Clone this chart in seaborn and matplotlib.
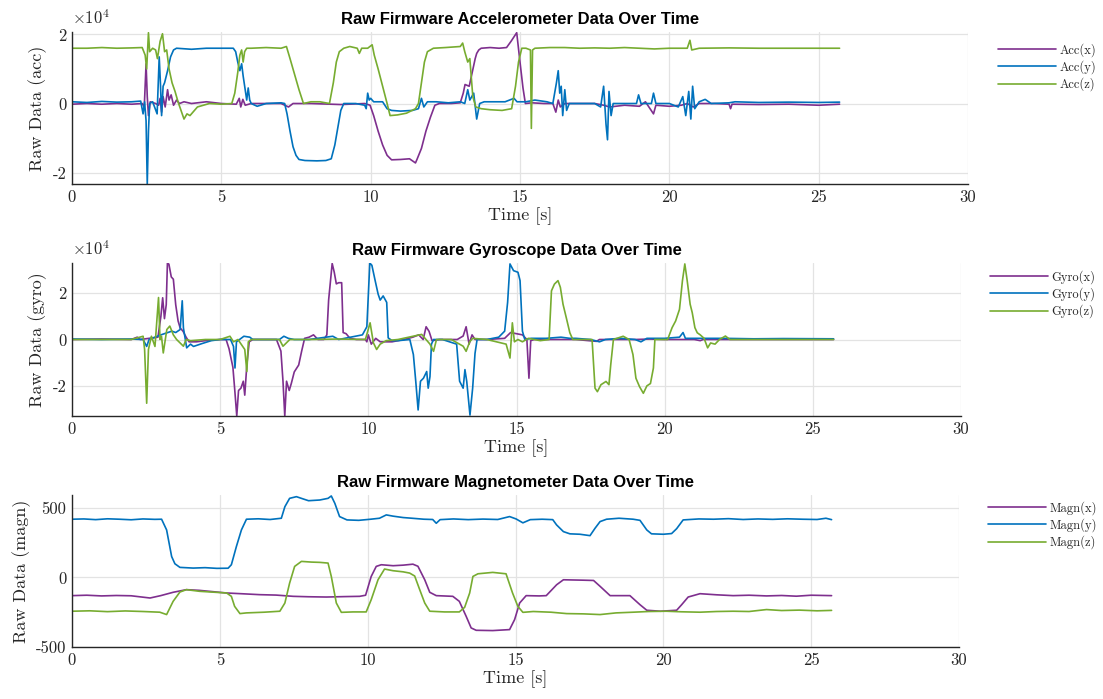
import numpy as np
import matplotlib
matplotlib.use("Agg")
import matplotlib.pyplot as plt
import seaborn as sns

# ---------------- data (accelerometer, units of 1e4) ----------------
acc_x_t = [0, 0.5, 1.0, 1.5, 2.0, 2.35, 2.42, 2.48, 2.52, 2.56, 2.62, 2.8, 2.9, 2.95, 3.0, 3.05, 3.12, 3.2, 3.25, 3.32, 3.4, 3.5, 3.6, 3.75, 4.0, 4.5, 5.0, 5.5, 5.6, 5.65, 5.72, 5.8, 6.0, 6.5, 7.0, 7.25, 7.4, 8.0, 9.0, 9.8, 9.98, 10.1, 10.25, 10.4, 10.55, 10.7, 11.0, 11.3, 11.5, 11.55, 11.7, 11.85, 12.0, 12.15, 12.3, 12.7, 13.0, 13.1, 13.16, 13.3, 13.4, 13.5, 13.55, 13.62, 13.7, 14.0, 14.3, 14.55, 14.7, 14.89, 15.0, 15.1, 15.18, 15.4, 15.8, 16.1, 16.2, 16.28, 16.35, 16.5, 17.0, 17.5, 17.8, 18.0, 18.5, 19.0, 19.2, 19.47, 19.55, 20.0, 20.4, 20.6, 20.8, 21.0, 21.5, 22.0, 22.05, 22.1, 23.0, 24.0, 25.0, 25.7]
acc_x_v = [-0.02, 0.0, -0.02, 0.0, -0.02, 0.0, -0.1, 1.15, 0.2, -0.35, 0.05, 0.0, -0.05, 0.15, -0.25, 0.2, -0.1, 0.4, 0.1, 0.25, -0.05, 0.1, 0.0, 0.05, 0.0, 0.05, 0.0, -0.02, 0.15, -0.1, 0.12, -0.05, 0.0, 0.0, 0.0, -0.1, 0.0, 0.0, -0.03, 0.0, -0.05, -0.35, -0.8, -1.2, -1.5, -1.63, -1.62, -1.6, -1.72, -1.62, -1.3, -0.8, -0.4, -0.05, 0.0, 0.0, 0.02, 0.3, 0.55, 0.5, 0.9, 1.3, 1.45, 1.55, 1.6, 1.62, 1.6, 1.62, 1.8, 2.05, 1.2, 0.45, 0.0, 0.02, 0.0, 0.0, -0.25, 0.1, -0.1, 0.0, 0.0, 0.0, -0.05, -0.1, -0.05, -0.08, 0.05, -0.3, -0.05, -0.08, -0.05, 0.0, -0.1, 0.0, 0.0, -0.02, -0.15, -0.02, -0.03, -0.02, -0.05, -0.02]

acc_y_t = [0, 0.5, 1.0, 1.5, 2.0, 2.3, 2.38, 2.43, 2.48, 2.52, 2.56, 2.6, 2.7, 2.85, 2.92, 2.96, 3.0, 3.05, 3.1, 3.2, 3.3, 3.4, 3.5, 4.0, 4.5, 5.0, 5.4, 5.48, 5.55, 5.62, 5.68, 5.73, 5.8, 5.85, 5.9, 5.95, 6.0, 6.2, 6.5, 7.0, 7.12, 7.2, 7.3, 7.4, 7.5, 7.6, 7.8, 8.2, 8.5, 8.68, 8.8, 8.9, 9.0, 9.1, 9.5, 9.8, 9.85, 9.9, 9.95, 10.0, 10.1, 10.4, 10.55, 10.7, 11.0, 11.4, 11.6, 11.7, 11.78, 11.9, 12.2, 12.6, 13.0, 13.15, 13.25, 13.32, 13.45, 13.55, 13.65, 13.8, 14.5, 14.8, 14.9, 15.2, 15.5, 15.9, 16.1, 16.22, 16.28, 16.33, 16.38, 16.43, 16.5, 16.56, 16.65, 17.0, 17.5, 17.7, 17.8, 17.88, 17.93, 17.98, 18.05, 18.12, 18.5, 18.9, 18.97, 19.05, 19.4, 19.47, 19.55, 20.0, 20.3, 20.45, 20.55, 20.65, 20.72, 20.78, 20.85, 21.0, 21.2, 21.4, 22.0, 22.2, 23.0, 24.0, 25.0, 25.7]
acc_y_v = [0.05, 0.03, 0.06, 0.04, 0.05, 0.07, -0.3, 0.05, -0.5, -2.33, -0.8, 0.0, 0.05, -0.3, 1.35, 0.6, -0.35, 0.5, 0.6, 0.95, 1.35, 1.55, 1.6, 1.57, 1.6, 1.6, 1.6, 1.5, 1.2, 0.95, 1.15, 0.8, 0.4, 0.1, 0.45, 0.1, 0.0, -0.08, 0.0, 0.02, 0.0, -0.3, -0.8, -1.25, -1.5, -1.62, -1.65, -1.66, -1.65, -1.6, -1.2, -0.7, -0.2, 0.0, 0.0, -0.05, -0.15, 0.3, 0.1, 0.15, 0.05, 0.05, -0.15, -0.2, -0.22, -0.2, -0.15, 0.15, -0.1, 0.05, 0.05, 0.02, 0.05, 0.0, 0.4, 0.1, 0.3, -0.45, 0.0, 0.05, 0.05, 0.15, 0.05, 0.05, 0.1, 0.05, 0.0, 0.6, 0.95, 0.3, 0.5, -0.35, 0.4, -0.2, 0.0, 0.0, 0.0, -0.1, 0.5, -0.6, -1.05, 0.35, -0.35, 0.0, 0.0, 0.0, 0.25, 0.0, 0.0, 0.3, 0.0, 0.0, -0.1, 0.2, -0.35, 0.35, -0.45, 0.5, -0.15, 0.05, 0.12, 0.0, 0.02, 0.05, 0.03, 0.04, 0.03, 0.04]

acc_z_t = [0, 0.5, 1.0, 1.5, 2.0, 2.35, 2.45, 2.5, 2.56, 2.6, 2.7, 2.8, 2.86, 2.95, 3.03, 3.1, 3.17, 3.25, 3.35, 3.45, 3.55, 3.65, 3.75, 3.85, 3.95, 4.05, 4.2, 4.4, 4.6, 5.0, 5.35, 5.45, 5.55, 5.62, 5.68, 5.73, 5.78, 5.85, 6.0, 6.5, 7.0, 7.18, 7.3, 7.45, 7.6, 7.75, 8.0, 8.3, 8.62, 8.75, 8.85, 8.95, 9.1, 9.3, 9.55, 9.62, 9.7, 9.9, 10.05, 10.12, 10.25, 10.4, 10.55, 10.65, 10.9, 11.2, 11.5, 11.6, 11.7, 11.8, 11.9, 12.1, 12.5, 13.0, 13.08, 13.15, 13.25, 13.32, 13.42, 13.52, 13.7, 14.0, 14.4, 14.72, 14.85, 14.95, 15.06, 15.2, 15.35, 15.38, 15.42, 15.5, 16.0, 16.5, 17.0, 17.5, 18.0, 18.5, 19.0, 19.5, 20.0, 20.6, 20.69, 20.75, 21.0, 22.0, 23.0, 24.0, 25.0, 25.7]
acc_z_v = [1.6, 1.6, 1.62, 1.6, 1.61, 1.62, 1.4, 1.0, 2.05, 1.5, 1.6, 1.55, 1.3, 1.8, 2.02, 1.5, 1.55, 1.0, 0.6, 0.35, 0.05, -0.2, -0.45, -0.3, -0.35, -0.25, -0.1, -0.05, 0.0, -0.02, 0.0, 0.3, 0.9, 1.4, 1.55, 1.2, 1.5, 1.6, 1.6, 1.62, 1.6, 1.65, 1.3, 0.85, 0.4, 0.0, 0.05, 0.05, 0.0, 0.6, 1.2, 1.5, 1.6, 1.65, 1.6, 1.45, 1.6, 1.6, 1.7, 1.4, 1.0, 0.5, 0.0, -0.35, -0.33, -0.28, -0.15, 0.0, 0.6, 1.2, 1.5, 1.6, 1.62, 1.65, 1.75, 1.5, 1.2, 1.3, 0.2, -0.1, -0.15, -0.18, -0.2, -0.15, 0.5, 1.2, 1.6, 1.6, 1.55, -0.72, 1.55, 1.6, 1.62, 1.62, 1.6, 1.61, 1.6, 1.62, 1.6, 1.58, 1.6, 1.6, 1.83, 1.55, 1.6, 1.61, 1.6, 1.6, 1.6, 1.6]

# ---------------- data (gyroscope, units of 1e4) ----------------
gyro_x_t = [0, 1.0, 2.0, 2.2, 2.3, 2.6, 2.9, 3.0, 3.06, 3.12, 3.18, 3.22, 3.27, 3.35, 3.42, 3.5, 3.58, 3.65, 3.75, 3.85, 3.95, 4.2, 4.5, 5.0, 5.2, 5.3, 5.43, 5.5, 5.56, 5.62, 5.7, 5.78, 5.83, 5.9, 5.98, 6.1, 6.5, 6.9, 7.05, 7.12, 7.18, 7.24, 7.33, 7.4, 7.5, 7.65, 7.75, 7.85, 8.0, 8.15, 8.3, 8.5, 8.6, 8.66, 8.78, 8.85, 8.92, 9.0, 9.1, 9.15, 9.25, 9.38, 9.6, 9.9, 9.95, 10.0, 10.1, 10.25, 10.4, 10.8, 11.2, 11.5, 11.7, 11.85, 11.95, 12.05, 12.15, 12.4, 13.0, 13.2, 13.3, 13.4, 13.5, 13.6, 14.0, 14.6, 14.8, 15.0, 15.2, 15.35, 15.42, 15.48, 15.6, 16.0, 17.0, 17.7, 17.8, 18.5, 19.0, 19.5, 20.0, 21.0, 21.2, 21.3, 22.0, 23.0, 25.7]
gyro_x_v = [0.0, 0.02, 0.0, 0.1, 0.0, 0.05, 0.1, 1.0, 1.8, 0.9, 1.5, 3.3, 3.25, 2.7, 2.6, 1.5, 0.8, 0.5, 0.35, 0.1, -0.1, -0.1, -0.05, 0.0, 0.0, -0.4, -1.2, -2.3, -3.3, -2.2, -2.1, -1.8, -2.4, -1.1, -0.1, 0.0, 0.0, 0.0, -0.5, -1.8, -3.3, -1.8, -2.2, -1.9, -1.4, -1.1, -0.5, 0.05, 0.1, 0.2, 0.0, 0.0, 0.2, 1.7, 3.28, 2.9, 2.4, 2.45, 2.45, 0.3, 0.25, 0.05, 0.0, 0.0, -0.1, 0.2, -0.2, 0.05, -0.1, -0.1, 0.0, 0.1, 0.2, 0.0, 0.55, 0.35, -0.05, 0.0, 0.0, 0.15, 0.55, -0.2, 0.2, 0.0, 0.0, 0.05, 0.3, 0.25, 0.2, 0.0, -1.67, -0.05, 0.0, 0.0, 0.0, -0.08, 0.0, 0.0, 0.0, 0.02, 0.0, 0.0, -0.05, 0.0, 0.0, 0.0, 0.0]

gyro_y_t = [0, 1.0, 2.0, 2.4, 2.52, 2.6, 2.8, 3.0, 3.37, 3.5, 3.65, 3.72, 3.76, 3.87, 4.0, 4.1, 4.4, 4.7, 5.0, 5.35, 5.45, 5.5, 5.55, 5.8, 6.0, 6.1, 6.5, 7.0, 7.15, 7.3, 7.5, 8.0, 8.8, 9.0, 9.8, 9.95, 10.05, 10.12, 10.22, 10.33, 10.4, 10.5, 10.62, 10.67, 10.8, 11.0, 11.4, 11.52, 11.6, 11.68, 11.76, 11.86, 11.97, 12.02, 12.08, 12.13, 12.2, 12.5, 12.98, 13.08, 13.2, 13.26, 13.32, 13.43, 13.52, 13.6, 13.67, 14.0, 14.4, 14.6, 14.7, 14.78, 14.9, 15.05, 15.12, 15.2, 15.28, 15.5, 16.0, 16.5, 16.8, 17.0, 17.5, 17.8, 18.0, 18.5, 19.0, 19.2, 19.4, 20.0, 20.5, 20.62, 20.7, 21.0, 22.0, 23.0, 24.0, 25.7]
gyro_y_v = [0.02, 0.0, 0.02, 0.0, -0.3, 0.0, 0.1, 0.2, 0.36, 0.3, 0.43, 1.67, 0.5, -0.36, -0.2, -0.3, -0.17, -0.05, 0.0, 0.0, -0.3, -1.23, -0.1, 0.14, 0.1, 0.0, 0.0, 0.0, 0.14, 0.05, 0.0, 0.0, 0.14, 0.0, 0.2, 0.55, 3.3, 3.2, 2.6, 1.96, 1.7, 1.88, 1.6, 0.07, -0.05, -0.05, 0.0, -0.65, -1.8, -3.04, -1.8, -1.67, -1.38, -2.1, -1.6, -0.2, 0.0, 0.0, -0.2, -1.8, -2.1, -1.3, -1.8, -3.26, -2.1, -0.6, 0.0, 0.0, 0.1, 0.36, 1.6, 3.26, 2.97, 2.9, 2.54, 0.36, 0.0, 0.05, 0.05, 0.1, 0.05, 0.05, 0.0, -0.1, 0.0, 0.05, 0.0, -0.1, 0.05, 0.05, 0.1, 0.3, 0.05, 0.05, 0.05, 0.03, 0.04, 0.03]

gyro_z_t = [0, 1.0, 2.0, 2.4, 2.45, 2.52, 2.58, 2.68, 2.8, 2.92, 2.97, 3.02, 3.08, 3.2, 3.3, 3.42, 3.53, 3.76, 3.85, 4.0, 4.5, 5.0, 5.33, 5.45, 5.6, 5.83, 5.9, 5.95, 6.05, 6.5, 7.0, 7.12, 7.35, 8.0, 9.0, 9.9, 10.06, 10.17, 10.28, 10.4, 10.6, 11.0, 11.8, 12.08, 12.2, 12.3, 12.8, 13.2, 13.3, 13.42, 13.52, 14.0, 14.65, 14.78, 14.86, 14.93, 15.05, 15.2, 15.4, 15.8, 16.1, 16.18, 16.28, 16.4, 16.48, 16.57, 16.68, 16.8, 16.9, 17.3, 17.55, 17.65, 17.73, 17.85, 18.02, 18.12, 18.18, 18.27, 18.6, 18.8, 18.93, 19.03, 19.15, 19.28, 19.4, 19.52, 19.62, 19.67, 20.1, 20.25, 20.37, 20.5, 20.6, 20.68, 20.76, 20.86, 20.93, 21.02, 21.1, 21.2, 21.33, 21.45, 21.55, 21.7, 21.85, 22.05, 22.2, 23.0, 24.0, 25.7]
gyro_z_v = [0.0, 0.0, 0.0, 0.14, -0.43, -2.75, -0.43, 0.14, -0.3, 1.81, 0.0, 0.14, -0.58, 0.43, 0.58, 0.2, 0.0, -0.29, 0.0, -0.05, 0.0, 0.0, 0.14, -0.1, 0.0, -0.43, -1.38, -0.1, 0.0, 0.0, 0.0, -0.29, 0.0, 0.0, 0.02, 0.0, 0.72, -0.14, -0.43, -0.2, -0.05, 0.0, 0.22, -0.2, -0.51, 0.0, 0.0, -0.29, -0.51, -0.1, 0.05, 0.0, -0.2, -0.8, 0.72, -0.1, 0.0, -0.1, 0.05, -0.05, 0.0, 2.1, 2.39, 2.54, 2.25, 1.52, 0.94, 0.29, 0.0, 0.0, 0.0, -2.1, -2.25, -1.95, -1.81, -1.95, -1.09, 0.0, 0.14, 0.0, -0.65, -1.67, -2.03, -2.32, -2.0, -1.9, -1.23, 0.0, 0.0, 0.51, 0.8, 1.3, 2.54, 3.26, 2.54, 1.52, 1.16, 0.51, 0.29, 0.2, 0.05, -0.36, -0.15, -0.2, 0.0, 0.15, 0.0, 0.0, 0.0, 0.0]

# ---------------- data (magnetometer, raw) ----------------
magn_x_t = [0, 0.5, 1.0, 1.5, 2.0, 2.64, 3.0, 3.42, 3.87, 4.3, 5.23, 5.8, 6.35, 6.9, 7.48, 8.0, 8.6, 9.2, 9.73, 9.93, 10.12, 10.29, 10.46, 10.86, 11.2, 11.53, 11.7, 11.93, 12.1, 12.32, 12.88, 13.1, 13.33, 13.5, 13.67, 14.23, 14.8, 14.97, 15.14, 15.36, 15.8, 16.04, 16.39, 16.62, 17.3, 17.64, 17.86, 18.2, 18.87, 19.21, 19.44, 19.9, 20.45, 20.62, 20.84, 21.24, 21.8, 22.36, 22.9, 23.49, 24.0, 24.5, 25.0, 25.69]
magn_x_v = [-131, -128, -133, -130, -132, -148, -131, -107, -88, -93, -112, -118, -124, -127, -136, -139, -141, -138, -136, -128, 7, 79, 91, 84, 88, 95, 80, -17, -107, -131, -136, -172, -279, -363, -380, -382, -375, -303, -184, -131, -133, -131, -53, -17, -20, -22, -64, -131, -131, -196, -236, -243, -236, -196, -141, -117, -125, -131, -128, -133, -130, -135, -128, -131]

magn_y_t = [0, 0.4, 0.8, 1.2, 1.6, 2.0, 2.4, 2.8, 3.03, 3.2, 3.37, 3.48, 3.65, 4.1, 4.5, 4.9, 5.28, 5.39, 5.56, 5.73, 5.9, 6.3, 6.7, 7.08, 7.2, 7.36, 7.59, 7.8, 8.0, 8.38, 8.66, 8.77, 8.89, 9.05, 9.3, 9.7, 10.1, 10.4, 10.63, 10.86, 11.2, 11.5, 11.9, 12.2, 12.32, 12.45, 12.9, 13.4, 13.9, 14.4, 14.8, 15.02, 15.25, 15.5, 15.9, 16.26, 16.39, 16.62, 16.84, 17.18, 17.52, 17.69, 17.86, 18.08, 18.5, 18.98, 19.21, 19.44, 19.6, 20.0, 20.28, 20.45, 20.67, 21.2, 21.7, 22.2, 22.7, 23.2, 23.7, 24.2, 24.7, 25.2, 25.5, 25.69]
magn_y_v = [418, 420, 415, 421, 418, 414, 420, 417, 418, 341, 150, 98, 72, 67, 70, 65, 66, 91, 222, 341, 418, 421, 416, 425, 508, 568, 580, 565, 551, 556, 568, 585, 532, 437, 413, 410, 418, 425, 449, 440, 430, 425, 418, 416, 389, 415, 420, 415, 419, 416, 437, 420, 392, 415, 418, 415, 377, 329, 313, 310, 300, 353, 401, 418, 425, 418, 410, 341, 313, 310, 315, 350, 413, 420, 418, 422, 416, 420, 417, 421, 418, 416, 425, 415]

magn_z_t = [0, 0.6, 1.2, 1.8, 2.4, 2.97, 3.2, 3.42, 3.65, 3.87, 4.32, 5.23, 5.39, 5.5, 5.68, 5.9, 6.5, 7.03, 7.2, 7.36, 7.53, 7.76, 8.1, 8.38, 8.66, 8.77, 8.94, 9.11, 9.5, 9.95, 10.12, 10.35, 10.57, 10.86, 11.2, 11.42, 11.59, 11.76, 11.93, 12.1, 12.6, 13.1, 13.28, 13.45, 13.56, 13.73, 14.23, 14.68, 14.9, 15.08, 15.25, 15.6, 16.2, 16.73, 17.3, 17.86, 18.4, 18.98, 19.5, 20.1, 20.6, 21.24, 21.8, 22.36, 22.9, 23.49, 24.0, 24.6, 25.2, 25.69]
magn_z_v = [-243, -240, -246, -241, -245, -250, -267, -172, -105, -88, -100, -112, -136, -208, -260, -255, -250, -243, -184, -41, 79, 115, 110, 108, 103, 7, -184, -251, -248, -248, -160, -17, 60, 48, 40, 31, 10, -88, -184, -243, -248, -248, -215, -112, 7, 26, 36, 26, -112, -208, -251, -245, -250, -260, -262, -267, -255, -250, -245, -243, -247, -250, -245, -243, -245, -231, -238, -235, -240, -237]

x_ticks = [0, 5, 10, 15, 20, 25, 30]
acc_labels = ["Acc(x)", "Acc(y)", "Acc(z)"]
gyro_labels = ["Gyro(x)", "Gyro(y)", "Gyro(z)"]
magn_labels = ["Magn(x)", "Magn(y)", "Magn(z)"]
titles = ["Raw Firmware Accelerometer Data Over Time",
          "Raw Firmware Gyroscope Data Over Time",
          "Raw Firmware Magnetometer Data Over Time"]
ylabels = ["Raw Data (acc)", "Raw Data (gyro)", "Raw Data (magn)"]

# ---------------- style ----------------
sns.set_style("white")
plt.rcParams["font.family"] = ["cmr10", "DejaVu Serif"]
plt.rcParams["axes.unicode_minus"] = False
plt.rcParams["mathtext.fontset"] = "cm"

colors = ["#7E2F8E", "#0072BD", "#77AC30"]
SERIF = ["cmr10", "DejaVu Serif"]
SANS = ["Liberation Sans", "DejaVu Sans"]
DARK = "#262626"

fig = plt.figure(figsize=(11.03, 6.99), dpi=100)
W, H = 1103, 699
boxes = [(72, 32, 968, 184), (72, 263, 961, 416), (72, 495, 959, 647)]
axes = []
for (l, t, r, b) in boxes:
    axes.append(fig.add_axes([l / W, 1 - b / H, (r - l) / W, (b - t) / H]))

panels = [
    (axes[0], [(acc_x_t, acc_x_v), (acc_y_t, acc_y_v), (acc_z_t, acc_z_v)], acc_labels, (-2.33, 2.07), [-2, 0, 2], ["-2", "0", "2"], True, 998, 50),
    (axes[1], [(gyro_x_t, gyro_x_v), (gyro_y_t, gyro_y_v), (gyro_z_t, gyro_z_v)], gyro_labels, (-3.3, 3.3), [-2, 0, 2], ["-2", "0", "2"], True, 990, 277),
    (axes[2], [(magn_x_t, magn_x_v), (magn_y_t, magn_y_v), (magn_z_t, magn_z_v)], magn_labels, (-500, 592), [-500, 0, 500], ["-500", "0", "500"], False, 988, 508),
]

for i, (ax, series, labels, ylim, yt, ytl, sci, leg_x, leg_y) in enumerate(panels):
    for (tt, vv), lab, c in zip(series, labels, colors):
        sns.lineplot(x=tt, y=vv, ax=ax, color=c, linewidth=1.2, label=lab,
                     sort=False, estimator=None)
    ax.set_xlim(0, 30)
    ax.set_ylim(*ylim)
    ax.set_xticks(x_ticks)
    ax.set_xticklabels([str(v) for v in x_ticks], fontfamily=SERIF, fontsize=12)
    ax.set_yticks(yt)
    ax.set_yticklabels(ytl, fontfamily=SERIF, fontsize=12)
    ax.grid(True, color="#e3e3e3", linewidth=0.9)
    ax.set_axisbelow(True)
    for s in ["top", "right"]:
        ax.spines[s].set_visible(False)
    for s in ["left", "bottom"]:
        ax.spines[s].set_color(DARK)
        ax.spines[s].set_linewidth(1.0)
    ax.tick_params(direction="in", length=5, width=1.0, color=DARK,
                   labelcolor=DARK, pad=4)
    ax.set_xlabel("Time [s]", fontfamily=SERIF, fontsize=13, labelpad=2, color=DARK)
    ax.set_ylabel(ylabels[i], fontfamily=SERIF, fontsize=13, labelpad=4, color=DARK)
    ax.set_title(titles[i], fontfamily=SANS, fontweight="bold", fontsize=12,
                 pad=6, color="black")
    if sci:
        ax.text(0.0, 1.03, r"$\times10^4$", transform=ax.transAxes, ha="left",
                va="bottom", fontsize=12, color=DARK)
    ax.legend(loc="upper left", bbox_to_anchor=(leg_x / W, 1 - (leg_y - 7) / H),
              bbox_transform=fig.transFigure, frameon=False, handlelength=4.6,
              borderpad=0.0, borderaxespad=0.0,
              labelspacing=0.28, handletextpad=0.3,
              prop={"family": SERIF, "size": 9})

fig.savefig("out.png", dpi=100)
